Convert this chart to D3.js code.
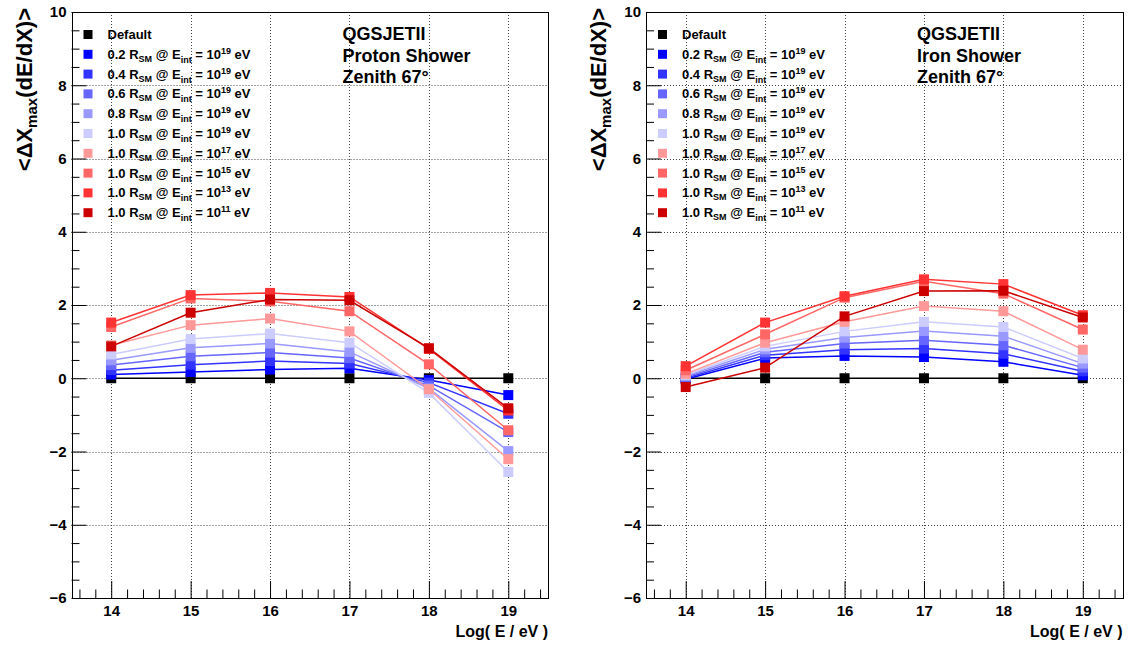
<!DOCTYPE html>
<html><head><meta charset="utf-8">
<script src="https://cdn.jsdelivr.net/npm/d3@7"></script>
<style>
body{margin:0;background:#fff}
svg text{font-family:"Liberation Sans",Arial,Helvetica,sans-serif;font-weight:bold;fill:#000}
</style>
</head><body>
<svg id="chart" width="1132" height="648"></svg>
<script>
// ---------- data ----------
const energies = [14, 15, 16, 17, 18, 19];
const xMajorTicks = [14, 15, 16, 17, 18, 19];
const yMajorTicks = [-6, -4, -2, 0, 2, 4, 6, 8, 10];
const seriesColors = ["#000000", "#0000ff", "#3333ff", "#6666ff", "#9999ff", "#ccccff", "#ff9999", "#ff6666", "#ff3333", "#cc0000"];
const legendRsm = ["", "0.2", "0.4", "0.6", "0.8", "1.0", "1.0", "1.0", "1.0", "1.0"];
const legendExp = ["", "19", "19", "19", "19", "19", "17", "15", "13", "11"];
const panelTitlesProton = ["QGSJETII", "Proton Shower", "Zenith 67°"];
const panelTitlesIron = ["QGSJETII", "Iron Shower", "Zenith 67°"];

// Proton panel
const protonDefault = [0, 0, 0, 0, 0, 0];
const protonR02 = [0.10, 0.17, 0.24, 0.27, -0.05, -0.46];
const protonR04 = [0.22, 0.37, 0.47, 0.40, -0.12, -0.97];
const protonR06 = [0.36, 0.60, 0.70, 0.55, -0.20, -1.47];
const protonR08 = [0.49, 0.83, 0.95, 0.72, -0.28, -1.99];
const protonR10 = [0.65, 1.07, 1.22, 0.97, -0.40, -2.56];
const protonE17 = [0.90, 1.45, 1.63, 1.28, -0.30, -2.21];
const protonE15 = [1.40, 2.18, 2.10, 1.83, 0.38, -1.42];
const protonE13 = [1.52, 2.27, 2.33, 2.22, 0.80, -0.88];
const protonE11 = [0.87, 1.79, 2.15, 2.13, 0.82, -0.82];

// Iron panel
const ironDefault = [0, 0, 0, 0, 0, 0];
const ironR02 = [-0.03, 0.55, 0.61, 0.58, 0.45, 0.08];
const ironR04 = [0.00, 0.63, 0.78, 0.81, 0.67, 0.19];
const ironR06 = [0.03, 0.71, 0.95, 1.04, 0.90, 0.29];
const ironR08 = [0.06, 0.79, 1.11, 1.29, 1.15, 0.40];
const ironR10 = [0.09, 0.87, 1.28, 1.54, 1.40, 0.54];
const ironE17 = [0.12, 0.97, 1.54, 1.97, 1.83, 0.78];
const ironE15 = [0.22, 1.20, 2.20, 2.65, 2.31, 1.33];
const ironE13 = [0.33, 1.52, 2.24, 2.70, 2.57, 1.72];
const ironE11 = [-0.24, 0.29, 1.69, 2.38, 2.39, 1.66];

const protonSeries = [protonDefault, protonR02, protonR04, protonR06, protonR08, protonR10, protonE17, protonE15, protonE13, protonE11];
const ironSeries = [ironDefault, ironR02, ironR04, ironR06, ironR08, ironR10, ironE17, ironE15, ironE13, ironE11];

// ---------- drawing ----------
const svg = d3.select("#chart");
const frameTop = 12, frameBottom = 598, frameWidth = 476.5;

function drawPanel(left, series, titles) {
  const right = left + frameWidth;
  const x = d3.scaleLinear().domain([13.5, 19.5]).range([left, right]);
  const y = d3.scaleLinear().domain([-6, 10]).range([frameBottom, frameTop]);
  const g = svg.append("g");

  // grid
  g.append("g").selectAll("line").data(xMajorTicks).join("line")
    .attr("x1", d => Math.round(x(d)) + 0.5).attr("x2", d => Math.round(x(d)) + 0.5)
    .attr("y1", frameTop).attr("y2", frameBottom)
    .attr("stroke", "#444").attr("stroke-width", 1).attr("stroke-dasharray", "1,2");
  g.append("g").selectAll("line").data(yMajorTicks.filter(d => d > -6 && d < 10)).join("line")
    .attr("x1", left).attr("x2", right)
    .attr("y1", d => Math.round(y(d)) + 0.5).attr("y2", d => Math.round(y(d)) + 0.5)
    .attr("stroke", "#444").attr("stroke-width", 1).attr("stroke-dasharray", "1,2");

  // axes
  const xMinor = d3.range(13.6, 19.45, 0.2).filter(v => Math.abs(v - Math.round(v)) > 0.01);
  const yMinor = d3.range(-6, 10.01, 0.5).filter(v => Math.abs(v / 2 - Math.round(v / 2)) > 0.01);

  const xAxis = g.append("g").attr("transform", `translate(0,${frameBottom})`)
    .call(d3.axisBottom(x).tickValues(xMajorTicks).tickSizeInner(-17).tickSizeOuter(0).tickPadding(7).tickFormat(d3.format("d")));
  xAxis.select(".domain").remove();
  xAxis.selectAll("text").attr("font-size", 15).attr("font-family", "Liberation Sans, Arial, sans-serif").attr("font-weight", "bold");
  xAxis.selectAll("line").attr("stroke", "#000");
  const xAxisMinor = g.append("g").attr("transform", `translate(0,${frameBottom})`)
    .call(d3.axisBottom(x).tickValues(xMinor).tickSizeInner(-8.5).tickSizeOuter(0).tickFormat(""));
  xAxisMinor.select(".domain").remove();

  const yAxis = g.append("g").attr("transform", `translate(${left},0)`)
    .call(d3.axisLeft(y).tickValues(yMajorTicks).tickSizeInner(-15).tickSizeOuter(0).tickPadding(5).tickFormat(d3.format("d")));
  yAxis.select(".domain").remove();
  yAxis.selectAll("text").attr("font-size", 15).attr("font-family", "Liberation Sans, Arial, sans-serif").attr("font-weight", "bold");
  const yAxisMinor = g.append("g").attr("transform", `translate(${left},0)`)
    .call(d3.axisLeft(y).tickValues(yMinor).tickSizeInner(-8).tickSizeOuter(0).tickFormat(""));
  yAxisMinor.select(".domain").remove();

  // frame
  g.append("rect").attr("x", Math.round(left) + 0.5).attr("y", frameTop + 0.5)
    .attr("width", Math.round(right) - Math.round(left)).attr("height", frameBottom - frameTop)
    .attr("fill", "none").attr("stroke", "#000").attr("stroke-width", 1);

  // series
  const line = d3.line().x((d, i) => x(energies[i])).y(d => y(d));
  series.forEach((vals, si) => {
    g.append("path").datum(vals).attr("d", line)
      .attr("fill", "none").attr("stroke", seriesColors[si]).attr("stroke-width", 1.5);
    g.append("g").selectAll("rect").data(vals).join("rect")
      .attr("x", (d, i) => x(energies[i]) - 5).attr("y", d => y(d) - 5)
      .attr("width", 10).attr("height", 10).attr("fill", seriesColors[si]);
  });

  // legend
  const legX = left + 16.5, textX = left + 36;
  seriesColors.forEach((c, i) => {
    const cy = 34.5 + i * 19.8;
    g.append("rect").attr("x", legX - 4.5).attr("y", cy - 4.5).attr("width", 9).attr("height", 9).attr("fill", c);
    const t = g.append("text").attr("x", textX).attr("y", cy + 4.5).attr("font-size", 13);
    if (i === 0) { t.text("Default"); return; }
    t.append("tspan").text(legendRsm[i] + " R");
    t.append("tspan").attr("font-size", 9).attr("dy", 3).text("SM");
    t.append("tspan").attr("dy", -3).text(" @ E");
    t.append("tspan").attr("font-size", 9).attr("dy", 4).text("int");
    t.append("tspan").attr("dy", -4).text(" = 10");
    t.append("tspan").attr("font-size", 9).attr("dy", -5).text(legendExp[i]);
    t.append("tspan").attr("dy", 5).text(" eV");
  });

  // titles
  titles.forEach((s, i) => {
    g.append("text").attr("x", left + 271).attr("y", 40 + i * 21.7).attr("font-size", 18).text(s);
  });

  // y axis title
  const yt = g.append("text").attr("transform", `translate(${left - 40},8) rotate(-90)`)
    .attr("text-anchor", "end").attr("font-size", 22);
  yt.append("tspan").text("<ΔX");
  yt.append("tspan").attr("font-size", 15).attr("dy", 5).text("max");
  yt.append("tspan").attr("dy", -5).text("(dE/dX)>");

  // x axis title
  g.append("text").attr("x", right).attr("y", 637).attr("text-anchor", "end").attr("font-size", 16).text("Log( E / eV )");
}

drawPanel(71.5, protonSeries, panelTitlesProton);
drawPanel(646, ironSeries, panelTitlesIron);
</script>
</body></html>
